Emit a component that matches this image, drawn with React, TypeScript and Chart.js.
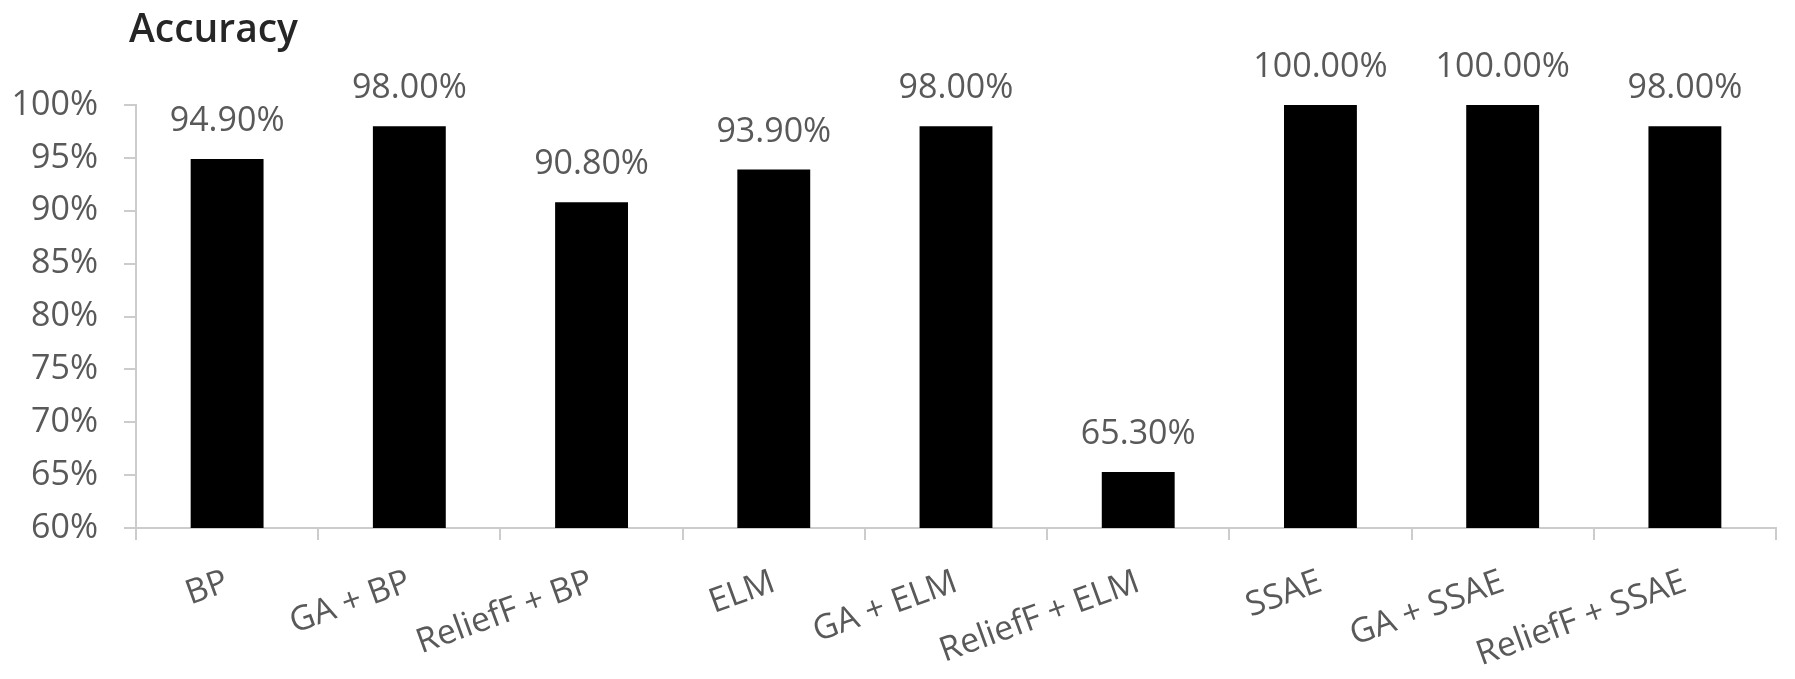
import React, { useEffect, useRef } from 'react';
import { Chart, registerables } from 'chart.js';

Chart.register(...registerables);

const categories = [
  'BP',
  'GA + BP',
  'ReliefF + BP',
  'ELM',
  'GA + ELM',
  'ReliefF + ELM',
  'SSAE',
  'GA + SSAE',
  'ReliefF + SSAE',
];
const accuracy = [94.9, 98.0, 90.8, 93.9, 98.0, 65.3, 100.0, 100.0, 98.0];
const yMin = 60;
const yMax = 100;
const yStep = 5;
const chartTitle = 'Accuracy';

const FONT = '"Open Sans", "Noto Sans", sans-serif';
const LABEL_COLOR = '#595959';
const AXIS_COLOR = '#cccccc';

export default function App() {
  const canvasRef = useRef<HTMLCanvasElement | null>(null);

  useEffect(() => {
    document.body.style.margin = '0';
    const canvas = canvasRef.current;
    if (!canvas) return;

    const valueLabels = {
      id: 'valueLabels',
      afterDatasetsDraw(chart: any) {
        const ctx = chart.ctx;
        const meta = chart.getDatasetMeta(0);
        ctx.save();
        ctx.font = `34px ${FONT}`;
        ctx.fillStyle = LABEL_COLOR;
        ctx.textAlign = 'center';
        ctx.textBaseline = 'alphabetic';
        meta.data.forEach((bar: any, i: number) => {
          ctx.fillText(accuracy[i].toFixed(2) + '%', bar.x, bar.y - 28);
        });
        ctx.restore();
      },
    };

    const cornerTitle = {
      id: 'cornerTitle',
      afterDraw(chart: any) {
        const ctx = chart.ctx;
        ctx.save();
        ctx.font = `600 39px ${FONT}`;
        ctx.fillStyle = '#262626';
        ctx.textAlign = 'left';
        ctx.textBaseline = 'alphabetic';
        ctx.fillText(chartTitle, chart.chartArea.left - 7, 42);
        ctx.restore();
      },
    };

    const chart = new Chart(canvas, {
      type: 'bar',
      data: {
        labels: categories,
        datasets: [
          {
            label: chartTitle,
            data: accuracy,
            backgroundColor: '#000000',
            borderWidth: 0,
            barPercentage: 0.4,
            categoryPercentage: 1.0,
          },
        ],
      },
      options: {
        animation: false,
        responsive: true,
        maintainAspectRatio: false,
        layout: { padding: { top: 105, left: 0, right: 19, bottom: 0 } },
        plugins: {
          legend: { display: false },
          tooltip: { enabled: false },
          title: { display: false },
        },
        scales: {
          x: {
            grid: {
              display: true,
              drawOnChartArea: false,
              drawTicks: true,
              tickLength: 12,
              color: AXIS_COLOR,
              lineWidth: 2,
              offset: true,
            },
            border: { display: true, color: AXIS_COLOR, width: 2 },
            ticks: {
              color: LABEL_COLOR,
              font: { family: FONT, size: 34 },
              minRotation: 20,
              maxRotation: 20,
              padding: 22,
              autoSkip: false,
            },
            afterFit(scale: any) {
              scale.height = 151;
            },
          },
          y: {
            min: yMin,
            max: yMax,
            grid: {
              display: true,
              drawOnChartArea: false,
              drawTicks: true,
              tickLength: 12,
              color: AXIS_COLOR,
              lineWidth: 2,
            },
            border: { display: true, color: AXIS_COLOR, width: 2 },
            ticks: {
              stepSize: yStep,
              color: LABEL_COLOR,
              font: { family: FONT, size: 34 },
              padding: 26,
              callback: (v: any) => `${v}%`,
            },
            afterFit(scale: any) {
              scale.width = 136;
            },
          },
        },
      },
      plugins: [valueLabels, cornerTitle],
    });

    return () => {
      chart.destroy();
    };
  }, []);

  return (
    <div style={{ position: 'relative', width: '1795px', height: '679px', background: '#ffffff' }}>
      <canvas ref={canvasRef} />
    </div>
  );
}
